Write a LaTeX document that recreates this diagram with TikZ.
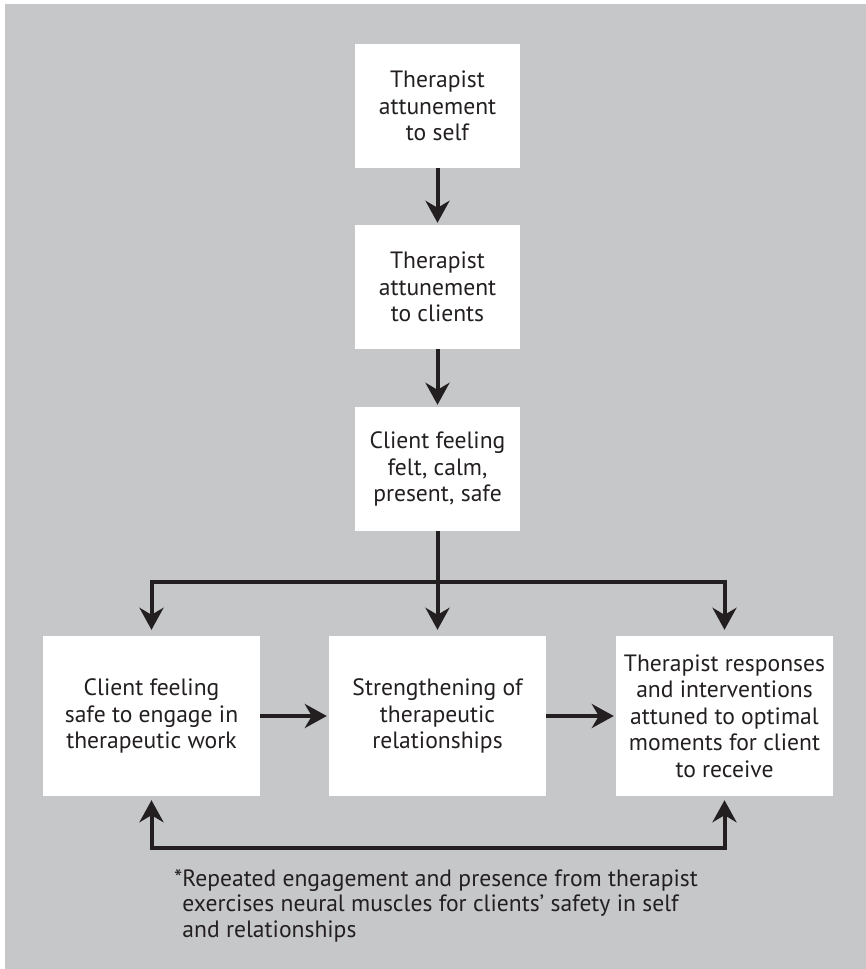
\documentclass[tikz,border=0pt]{standalone}
\usepackage{fontspec}
\setmainfont{PT Sans}
\usepackage{xcolor}
\usepackage{tikz}
\usetikzlibrary{arrows.meta}
\usetikzlibrary{positioning}

\definecolor{panelgrey}{HTML}{C6C7C9}
\definecolor{inkblack}{HTML}{231F20}

\tikzset{
  card/.style={fill=white, inner sep=0pt, align=center, text=inkblack,
    font=\fontsize{23.6}{26.5}\selectfont},
  flow/.style={draw=inkblack, line width=4pt,
    -{Stealth[length=22pt, width=24pt, inset=7pt]}},
  bus/.style={draw=inkblack, line width=4pt},
}

\begin{document}
\begin{tikzpicture}[x=1pt, y=-1pt]
        \useasboundingbox (0,0) rectangle (866,969);
        \fill[panelgrey] (5,4) rectangle (866,969);

        % column of boxes
        \node[card, minimum width=165pt, minimum height=124pt] (self) at (437.5,106)
             {Therapist\\attunement\\to self};
        \node[card, minimum width=165pt, minimum height=124pt] (clients) at (437.5,287)
             {Therapist\\attunement\\to clients};
        \node[card, minimum width=165pt, minimum height=124pt] (feel) at (437.5,469)
             {Client feeling\\felt, calm,\\present, safe};

        % bottom row
        \node[card, minimum width=217pt, minimum height=160pt] (safe) at (151.5,716)
             {Client feeling\\safe to engage in\\therapeutic work};
        \node[card, minimum width=217pt, minimum height=160pt] (bond) at (437.5,716)
             {Strengthening of\\therapeutic\\relationships};
        \node[card, minimum width=217pt, minimum height=160pt] (tune) at (724.5,716)
             {Therapist responses\\and interventions\\attuned to optimal\\moments for client\\to receive};

        \coordinate (split) at (437.5,582);
        \coordinate (loop) at (437.5,848);

        \draw[flow, shorten >=2pt] (self) -- (clients);
        \draw[flow, shorten >=2pt] (clients) -- (feel);
        \draw[bus] (feel) -- (split);
        \draw[flow, shorten >=6pt] (split) -| (safe.north);
        \draw[flow, shorten >=6pt] (split) -| (tune.north);
        \draw[flow, shorten >=6pt] (feel) -- (bond);
        \draw[flow, shorten >=2pt] (safe) -- (bond);
        \draw[flow, shorten >=2pt] (bond) -- (tune);
        \draw[flow, {Stealth[length=22pt, width=24pt, inset=7pt]}-{Stealth[length=22pt, width=24pt, inset=7pt]},
              shorten <=4pt, shorten >=4pt] (safe.south) |- (loop) -| (tune.south);

        \node[anchor=north west, align=left, inner sep=0pt, text=inkblack,
              font=\fontsize{23.6}{25.5}\selectfont] (note) at (174,869)
             {*Repeated engagement and presence from therapist\\
              \phantom{*}exercises neural muscles for clients’ safety in self\\
              \phantom{*}and relationships};
\end{tikzpicture}
\end{document}
